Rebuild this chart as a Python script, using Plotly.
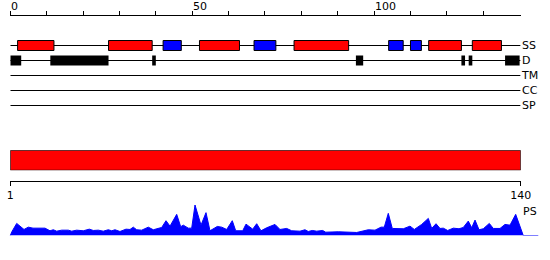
import plotly.graph_objects as go

# ---------------- data ----------------
rows = ["SS", "D", "TM", "CC", "SP"]
row_line_end = 140.2

ss_start = [2, 27, 42, 52, 67, 78, 104, 110, 115, 127]
ss_end = [12, 39, 47, 63, 73, 93, 108, 113, 124, 135]
ss_type = ["H", "H", "E", "H", "E", "H", "E", "E", "H", "H"]

d_start = [0, 11, 39, 95, 124, 126, 136]
d_end = [3, 27, 40, 97, 125, 127, 140]

top_ticks = list(range(0, 140, 10))
top_labels = [0, 50, 100]

domain_start = [1]
domain_end = [140]
bottom_ticks = [1, 140]

ps_pos = [0, 0.47, 1.76, 3.77, 4.95, 6.24, 9.54, 10.91, 11.82, 12.75,
          14.13, 15.94, 16.88, 18.25, 20.07, 21.72, 22.81, 24.19, 25.56, 26.94,
          27.87, 28.78, 30.15, 31.8, 32.9, 33.81, 34.74, 36.12, 37.93, 39.31,
          41.62, 42.8, 43.9, 45.74, 46.84, 47.55, 48.93, 49.86, 50.77, 52.42,
          53.79, 54.89, 56.9, 58.11, 59.48, 61.02, 61.96, 63.88, 64.79, 66.63,
          67.73, 68.91, 70.48, 72.76, 74.13, 75.98, 77.35, 79.63, 81.0, 81.91,
          83.01, 84.22, 85.87, 86.7, 90.16, 92.91, 95.22, 98.41, 100.25, 101.9,
          102.8, 103.9, 105.0, 108.03, 109.87, 111.05, 113.08, 114.9, 115.83, 117.02,
          118.12, 119.02, 120.23, 121.77, 123.34, 124.52, 125.89, 126.83, 127.74, 128.84,
          130.02, 131.67, 132.77, 134.61, 135.98, 137.36, 138.92, 141.0, 145.13]
ps_val = [0, 4, 12, 6, 8.3, 7.3, 7.3, 4.7, 5.7, 4.3,
          5.3, 5.3, 4.3, 5.3, 4.7, 6.3, 5, 5.3, 4.3, 5.7,
          4.7, 5.7, 4, 6.3, 6, 8.3, 5.7, 5.3, 8.3, 5.7,
          8, 14.7, 9.3, 21, 8.7, 10.3, 7.3, 7.3, 30.3, 10.3,
          22.7, 4.7, 9, 8.3, 6, 14.7, 4.7, 4.7, 11.3, 6.3,
          11.7, 4.7, 7.7, 11, 6, 7, 4.7, 4.3, 5.7, 4,
          5, 4.3, 5, 3.3, 3.7, 3.7, 3, 5.7, 5.3, 8.3,
          8.3, 22, 7, 6.7, 9.3, 6, 11, 17, 7, 11.7,
          7, 7.3, 5, 7.3, 6.7, 8, 14.3, 7.7, 15.3, 5.7,
          6.7, 12, 7, 7, 11, 10.3, 21, 0, 0]

# ---------------- styling ----------------
W, H = 550, 260
FONT = dict(family="DejaVu Sans", size=11, color="black")
RED, BLUE, BLACK = "#FF0000", "#0000FF", "#000000"
type_color = {"H": RED, "E": BLUE}

def py(px):  # pixel row -> paper fraction
    return 1 - px / H

def px_x(px):
    return px / W

x_left, x_right = 10.3, 521.0
scale = (x_right - x_left) / 140.38  # px per residue (top axis)

fig = go.Figure()

# secondary structure boxes
fig.add_trace(go.Bar(
    orientation="h", y=["SS"] * len(ss_start),
    base=ss_start, x=[e - s for s, e in zip(ss_start, ss_end)],
    width=10 / 15, marker=dict(color=[type_color[t] for t in ss_type],
                              line=dict(color=BLACK, width=1)),
    xaxis="x2", yaxis="y", hoverinfo="skip"))

# disorder boxes
fig.add_trace(go.Bar(
    orientation="h", y=["D"] * len(d_start),
    base=d_start, x=[e - s for s, e in zip(d_start, d_end)],
    width=10 / 15, marker=dict(color=BLACK, line=dict(width=0)),
    xaxis="x2", yaxis="y", hoverinfo="skip"))

# domain bar
fig.add_trace(go.Bar(
    orientation="h", y=[0], base=domain_start,
    x=[e - s for s, e in zip(domain_start, domain_end)],
    width=1, marker=dict(color=RED, line=dict(color=BLACK, width=1)),
    xaxis="x3", yaxis="y4", hoverinfo="skip"))

# PS area
fig.add_trace(go.Scatter(
    x=ps_pos, y=ps_val, mode="lines", fill="tozeroy",
    fillcolor=BLUE, line=dict(color=BLUE, width=1),
    xaxis="x", yaxis="y3", hoverinfo="skip"))

# row baselines (drawn below bars)
shapes = []
for r in rows:
    shapes.append(dict(type="line", xref="x2", yref="y", x0=0, x1=row_line_end,
                       y0=r, y1=r, line=dict(color=BLACK, width=1), layer="below"))

annotations = []
for t in top_labels:
    annotations.append(dict(text=str(t), x=t, xref="x2", y=py(6), yref="paper",
                            xanchor="left", yanchor="middle", showarrow=False,
                            font=FONT, borderpad=0))
annotations.append(dict(text="PS", x=(521.7 - x_left) / scale, xref="x",
                        y=py(211), yref="paper", xanchor="left", yanchor="middle",
                        showarrow=False, font=FONT, borderpad=0))

fig.update_layout(
    width=W, height=H, margin=dict(l=0, r=0, t=0, b=0, pad=0, autoexpand=False),
    paper_bgcolor="white", plot_bgcolor="rgba(0,0,0,0)",
    showlegend=False, barmode="overlay", font=FONT,
    shapes=shapes, annotations=annotations,
    # main x for PS
    xaxis=dict(domain=[0, 1], range=[-x_left / scale, (W - x_left) / scale],
               visible=False, anchor="y3", automargin=False),
    # top axis for rows
    xaxis2=dict(domain=[px_x(x_left), px_x(x_right)], range=[0, 140.38],
                side="top", anchor="free", position=py(14.5),
                showline=True, linecolor=BLACK, linewidth=1,
                ticks="outside", ticklen=4, tickwidth=1, tickcolor=BLACK,
                tickvals=top_ticks, showticklabels=False, automargin=False,
                showgrid=False, zeroline=False, fixedrange=True),
    # bottom axis for domain bar
    xaxis3=dict(domain=[px_x(x_left), px_x(520.7)], range=[1, 140],
                anchor="free", position=py(180.7), automargin=False,
                showline=True, linecolor=BLACK, linewidth=1,
                ticks="outside", ticklen=4, tickwidth=1, tickcolor=BLACK,
                tickvals=bottom_ticks, ticktext=[str(t) for t in bottom_ticks],
                tickfont=FONT, showgrid=False, zeroline=False),
    yaxis=dict(domain=[py(113), py(38)], type="category",
               categoryarray=rows, categoryorder="array",
               range=[4.5, -0.5], anchor="x2", side="right", automargin=False,
               showline=False, ticks="", showgrid=False, zeroline=False,
               tickfont=FONT),
    yaxis3=dict(domain=[py(235.5), py(205)], range=[0, 30.3],
                visible=False, anchor="x", automargin=False),
    yaxis4=dict(domain=[py(170.3), py(150.3)], range=[-0.5, 0.5],
                visible=False, anchor="x3", automargin=False),
)

fig.write_html("out.html")
